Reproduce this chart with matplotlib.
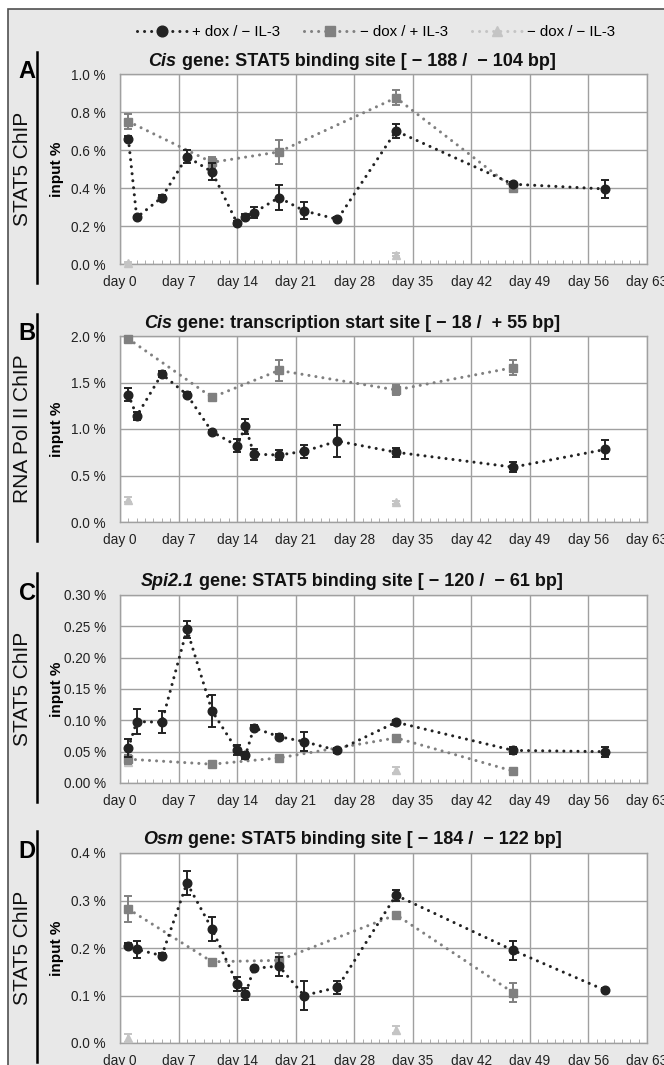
import matplotlib
matplotlib.use("Agg")
import matplotlib.pyplot as plt
from matplotlib import font_manager
from matplotlib.lines import Line2D
from matplotlib.patches import Rectangle
from matplotlib.ticker import MultipleLocator, FuncFormatter

# Pick the condensed face when it exists
installed = {f.name for f in font_manager.fontManager.ttflist}
NARROW = "Liberation Sans Narrow" if "Liberation Sans Narrow" in installed else "Liberation Sans"
plt.rcParams["font.family"] = [NARROW, "DejaVu Sans"]
TICK_SIZE = 11.5 if NARROW.endswith("Narrow") else 9.8

# Sampling days per condition
days_dox = [1, 2, 5, 8, 11, 14, 15, 16, 19, 22, 26, 33, 47, 58]
days_il3 = [1, 11, 19, 33, 47]
days_none = [1, 33]

# Panel A - Cis STAT5 site
a_dox = [0.66, 0.245, 0.35, 0.565, 0.485, 0.215, 0.25, 0.27, 0.35, 0.28, 0.235, 0.70, 0.42, 0.395]
a_dox_err = [0.015, 0.01, 0.015, 0.035, 0.045, 0.01, 0.015, 0.03, 0.065, 0.045, 0.01, 0.035, 0.01, 0.045]
a_il3 = [0.75, 0.535, 0.59, 0.875, 0.40]
a_il3_err = [0.04, 0.03, 0.065, 0.04, 0.015]
a_none = [0.005, 0.05]
a_none_err = [0.005, 0.008]

# Panel B - Cis transcription start site
b_dox = [1.37, 1.14, 1.59, 1.37, 0.97, 0.82, 1.03, 0.73, 0.72, 0.76, 0.87, 0.75, 0.59, 0.78]
b_dox_err = [0.07, 0.04, 0.03, 0.03, 0.02, 0.07, 0.08, 0.06, 0.05, 0.07, 0.17, 0.05, 0.05, 0.10]
b_il3 = [1.97, 1.34, 1.63, 1.42, 1.66]
b_il3_err = [0.02, 0.03, 0.11, 0.05, 0.08]
b_none = [0.24, 0.21]
b_none_err = [0.03, 0.015]

# Panel C - Spi2.1 STAT5 site
c_dox = [0.056, 0.098, 0.097, 0.245, 0.115, 0.052, 0.044, 0.088, 0.074, 0.066, 0.052, 0.097, 0.052, 0.050]
c_dox_err = [0.014, 0.02, 0.018, 0.013, 0.025, 0.008, 0.005, 0.004, 0.004, 0.015, 0.004, 0.004, 0.005, 0.008]
c_il3 = [0.038, 0.030, 0.040, 0.072, 0.019]
c_il3_err = [0.007, 0.003, 0.003, 0.004, 0.002]
c_none = [0.033, 0.021]
c_none_err = [0.004, 0.005]

# Panel D - Osm STAT5 site
d_dox = [0.205, 0.197, 0.184, 0.337, 0.24, 0.125, 0.103, 0.157, 0.162, 0.100, 0.117, 0.311, 0.195, 0.111]
d_dox_err = [0.006, 0.017, 0.005, 0.025, 0.025, 0.015, 0.012, 0.004, 0.02, 0.03, 0.013, 0.012, 0.02, 0.004]
d_il3 = [0.282, 0.171, 0.174, 0.270, 0.106]
d_il3_err = [0.028, 0.003, 0.015, 0.004, 0.02]
d_none = [0.011, 0.028]
d_none_err = [0.008, 0.007]

letters = ["A", "B", "C", "D"]
assays = ["STAT5 ChIP", "RNA Pol II ChIP", "STAT5 ChIP", "STAT5 ChIP"]
genes = ["Cis", "Cis", "Spi2.1", "Osm"]
regions = [
    " gene: STAT5 binding site [ − 188 /  − 104 bp]",
    " gene: transcription start site [ − 18 /  + 55 bp]",
    " gene: STAT5 binding site [ − 120 /  − 61 bp]",
    " gene: STAT5 binding site [ − 184 /  − 122 bp]",
]
y_max = [1.0, 2.0, 0.30, 0.4]
y_step = [0.2, 0.5, 0.05, 0.1]
y_dec = [1, 1, 2, 1]
series_labels = ["+ dox / − IL-3", "− dox / + IL-3", "− dox / − IL-3"]

panels = [
    (a_dox, a_dox_err, a_il3, a_il3_err, a_none, a_none_err),
    (b_dox, b_dox_err, b_il3, b_il3_err, b_none, b_none_err),
    (c_dox, c_dox_err, c_il3, c_il3_err, c_none, c_none_err),
    (d_dox, d_dox_err, d_il3, d_il3_err, d_none, d_none_err),
]

COLORS = ["#222222", "#808080", "#c4c4c4"]
MARKERS = ["o", "s", "^"]
SIZES = [6.2, 5.8, 5.5]
DOTS = (0, (0.01, 2.3))

W, H = 664, 1065
fig = plt.figure(figsize=(W / 100, H / 100), dpi=100)
renderer = fig.canvas.get_renderer()

def fx(x):
    return x / W

def fy(y):
    return 1 - y / H

def header(cx, cy, gene, rest):
    # italic gene name followed by the upright remainder, centred as one line
    kw = dict(va="center", ha="left", fontsize=13, fontweight="bold", color="#111111")
    t1 = fig.text(0, fy(cy), gene, style="italic", **kw)
    t2 = fig.text(0, fy(cy), rest, **kw)
    w1 = t1.get_window_extent(renderer).width
    w2 = t2.get_window_extent(renderer).width
    x0 = cx - (w1 + w2) / 2
    t1.set_x(fx(x0))
    t2.set_x(fx(x0 + w1))

# grey backdrop with a dark frame, kept behind the axes
fig.add_artist(Rectangle((fx(8), -0.01), 1, fy(9) + 0.01, transform=fig.transFigure,
                         facecolor="#e8e8e8", edgecolor="#505050", linewidth=1.2,
                         zorder=-10))

ax_left, ax_right = 120, 647
tops = [74, 336, 595, 853]
bottoms = [264, 522, 783, 1043]

for i, (dox, dox_err, il3, il3_err, none, none_err) in enumerate(panels):
    top, bot = tops[i], bottoms[i]
    ax = fig.add_axes([fx(ax_left), fy(bot), (ax_right - ax_left) / W, (bot - top) / H])
    ax.set_xlim(0, 63)
    ax.set_ylim(0, y_max[i])
    ax.xaxis.set_major_locator(MultipleLocator(7))
    ax.xaxis.set_minor_locator(MultipleLocator(1))
    ax.yaxis.set_major_locator(MultipleLocator(y_step[i]))
    ax.xaxis.set_major_formatter(FuncFormatter(lambda v, p: f"day {int(round(v))}"))
    dec = y_dec[i]
    ax.yaxis.set_major_formatter(FuncFormatter(lambda v, p, d=dec: f"{v:.{d}f} %"))
    ax.grid(True, which="major", color="#a0a0a0", linewidth=1.0)
    ax.set_axisbelow(True)
    for s in ax.spines.values():
        s.set_color("#a0a0a0")
        s.set_linewidth(1.0)
    ax.tick_params(axis="y", length=0, pad=10, labelsize=TICK_SIZE, labelcolor="#222222")
    ax.tick_params(axis="x", which="major", length=0, pad=8, labelsize=TICK_SIZE,
                   labelcolor="#222222")
    ax.tick_params(axis="x", which="minor", direction="in", length=3, color="#a0a0a0")

    # light grey first so the dox series sits on top
    groups = [(days_none, none, none_err, False), (days_il3, il3, il3_err, True),
              (days_dox, dox, dox_err, True)]
    for k, (xs, ys, es, joined) in zip((2, 1, 0), groups):
        ax.errorbar(xs, ys, yerr=es, fmt="none", ecolor=COLORS[k], elinewidth=1.4,
                    capsize=2.6, capthick=1.4, clip_on=False, zorder=3 + (2 - k))
        ax.plot(xs, ys, color=COLORS[k], linestyle=DOTS if joined else "none",
                linewidth=2.2, dash_capstyle="round", marker=MARKERS[k],
                markersize=SIZES[k], clip_on=False, zorder=3 + (2 - k))

    # panel header and side labels
    header(352, top - 13, genes[i], regions[i])
    fig.text(fx(27), fy(top - 2), letters[i], ha="center", va="center",
             fontsize=17, fontweight="bold", family="Liberation Sans")
    fig.text(fx(23), fy((top + bot) / 2), assays[i], ha="center", va="center",
             rotation=90, fontsize=15, family="Liberation Sans", color="#111111")
    fig.text(fx(57), fy((top + bot) / 2), "input %", ha="center", va="center",
             rotation=90, fontsize=11, fontweight="bold")
    fig.add_artist(Line2D([fx(37), fx(37)], [fy(top - 22), fy(bot + 19)],
                          transform=fig.transFigure, color="black", linewidth=1.8))

handles = [
    Line2D([], [], color=COLORS[k], linestyle=DOTS, linewidth=2.2, dash_capstyle="round",
           marker=MARKERS[k], markersize=SIZES[k] + 1.5)
    for k in range(3)
]
fig.legend(handles, series_labels, loc="center", bbox_to_anchor=(fx(376), fy(32)),
           ncol=3, frameon=False, handlelength=3.4, handletextpad=0.3,
           columnspacing=1.6, numpoints=1, fontsize=TICK_SIZE + 1)

fig.savefig("out.png", dpi=100)
